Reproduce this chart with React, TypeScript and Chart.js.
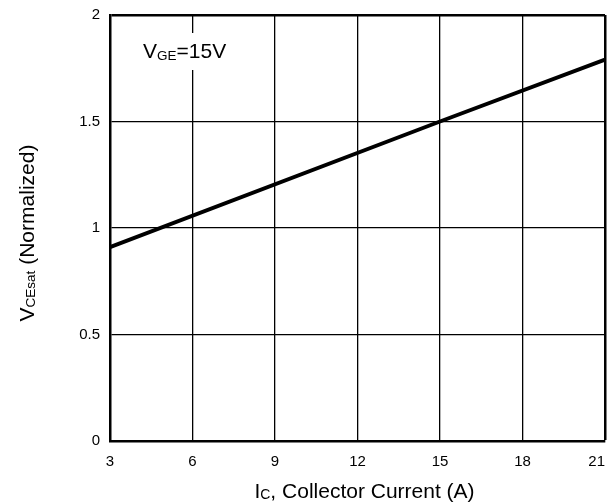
import React, { useEffect, useRef } from "react";
import { Chart, registerables } from "chart.js";

Chart.register(...registerables);

const currentA = [3, 15, 21];
const vceNorm = [0.91, 1.5, 1.79];
const xTicks = [3, 6, 9, 12, 15, 18, 21];
const yTicks = [0, 0.5, 1, 1.5, 2];

const FONT = "'Liberation Sans', Arial, Helvetica, sans-serif";

function drawParts(ctx: CanvasRenderingContext2D, x: number, y: number, parts: [string, number, number][]) {
  let cx = x;
  for (const [t, size, dy] of parts) {
    ctx.font = `${size}px ${FONT}`;
    ctx.fillText(t, cx, y + dy);
    cx += ctx.measureText(t).width;
  }
}
function measureParts(ctx: CanvasRenderingContext2D, parts: [string, number, number][]) {
  let w = 0;
  for (const [t, size] of parts) {
    ctx.font = `${size}px ${FONT}`;
    w += ctx.measureText(t).width;
  }
  return w;
}

const titlesPlugin = {
  id: "titles",
  afterDatasetsDraw(chart: any) {
    const ctx: CanvasRenderingContext2D = chart.ctx;
    const a = chart.chartArea;
    ctx.save();
    ctx.fillStyle = "#000";
    ctx.textBaseline = "alphabetic";
    ctx.textAlign = "left";
    // annotation
    const ann: [string, number, number][] = [["V", 21, 0], ["GE", 13.5, 2], ["=15V", 21, 0]];
    const aw = measureParts(ctx, ann);
    ctx.fillStyle = "#fff";
    ctx.fillRect(139, 33, aw + 8, 37);
    ctx.fillStyle = "#000";
    drawParts(ctx, 143, 58, ann);
    // x title
    const xt: [string, number, number][] = [["I", 21, 0], ["C", 14, 1], [", Collector Current (A)", 21, 0]];
    const xw = measureParts(ctx, xt);
    const xc = (a.left + a.right) / 2 + 7;
    drawParts(ctx, xc - xw / 2, 498, xt);
    // y title
    const yt: [string, number, number][] = [["V", 21, 0], ["CEsat", 13.5, 1], [" (Normalized)", 21, 0]];
    const yw = measureParts(ctx, yt);
    ctx.translate(34, (a.top + a.bottom) / 2 + 5);
    ctx.rotate(-Math.PI / 2);
    drawParts(ctx, -yw / 2, 0, yt);
    ctx.restore();
  },
};

export default function App() {
  const ref = useRef<HTMLCanvasElement>(null);
  useEffect(() => {
    document.body.style.margin = "0";
    const chart = new Chart(ref.current!, {
      type: "line",
      data: {
        datasets: [
          {
            data: currentA.map((x, i) => ({ x, y: vceNorm[i] })),
            borderColor: "#000",
            borderWidth: 4,
            pointRadius: 0,
            fill: false,
            tension: 0,
          },
        ],
      },
      options: {
        animation: false,
        responsive: false,
        devicePixelRatio: 1,
        layout: { padding: { left: 0, top: 15, right: 8, bottom: 0 } },
        plugins: { legend: { display: false }, tooltip: { enabled: false } },
        scales: {
          x: {
            type: "linear",
            min: 3,
            max: 21,
            afterBuildTicks: (s: any) => {
              s.ticks = xTicks.map((v) => ({ value: v }));
            },
            afterFit: (s: any) => {
              s.height = 61;
              s.paddingLeft = 0;
              s.paddingRight = 0;
            },
            grid: {
              color: "#000",
              lineWidth: (c: any) => (c.tick && c.tick.value === 21 ? 2.5 : 1.3),
              drawTicks: false,
            },
            border: { color: "#000", width: 2.5 },
            ticks: {
              color: "#000",
              font: { family: FONT, size: 15 },
              padding: 12,
              maxRotation: 0,
              autoSkip: false,
              callback: (v: any) => (v === 21 ? "21    " : String(v)),
            },
          },
          y: {
            type: "linear",
            min: 0,
            max: 2,
            afterBuildTicks: (s: any) => {
              s.ticks = yTicks.map((v) => ({ value: v }));
            },
            afterFit: (s: any) => {
              s.width = 110;
              s.paddingTop = 0;
              s.paddingBottom = 0;
            },
            grid: {
              color: "#000",
              lineWidth: (c: any) => (c.tick && c.tick.value === 2 ? 2.5 : 1.3),
              drawTicks: false,
            },
            border: { color: "#000", width: 2.5 },
            ticks: {
              color: "#000",
              font: { family: FONT, size: 15 },
              padding: 10,
              autoSkip: false,
              callback: (v: any) => String(v),
            },
          },
        },
      },
      plugins: [titlesPlugin],
    });
    return () => chart.destroy();
  }, []);
  return <canvas ref={ref} width={613} height={502} style={{ display: "block" }} />;
}
